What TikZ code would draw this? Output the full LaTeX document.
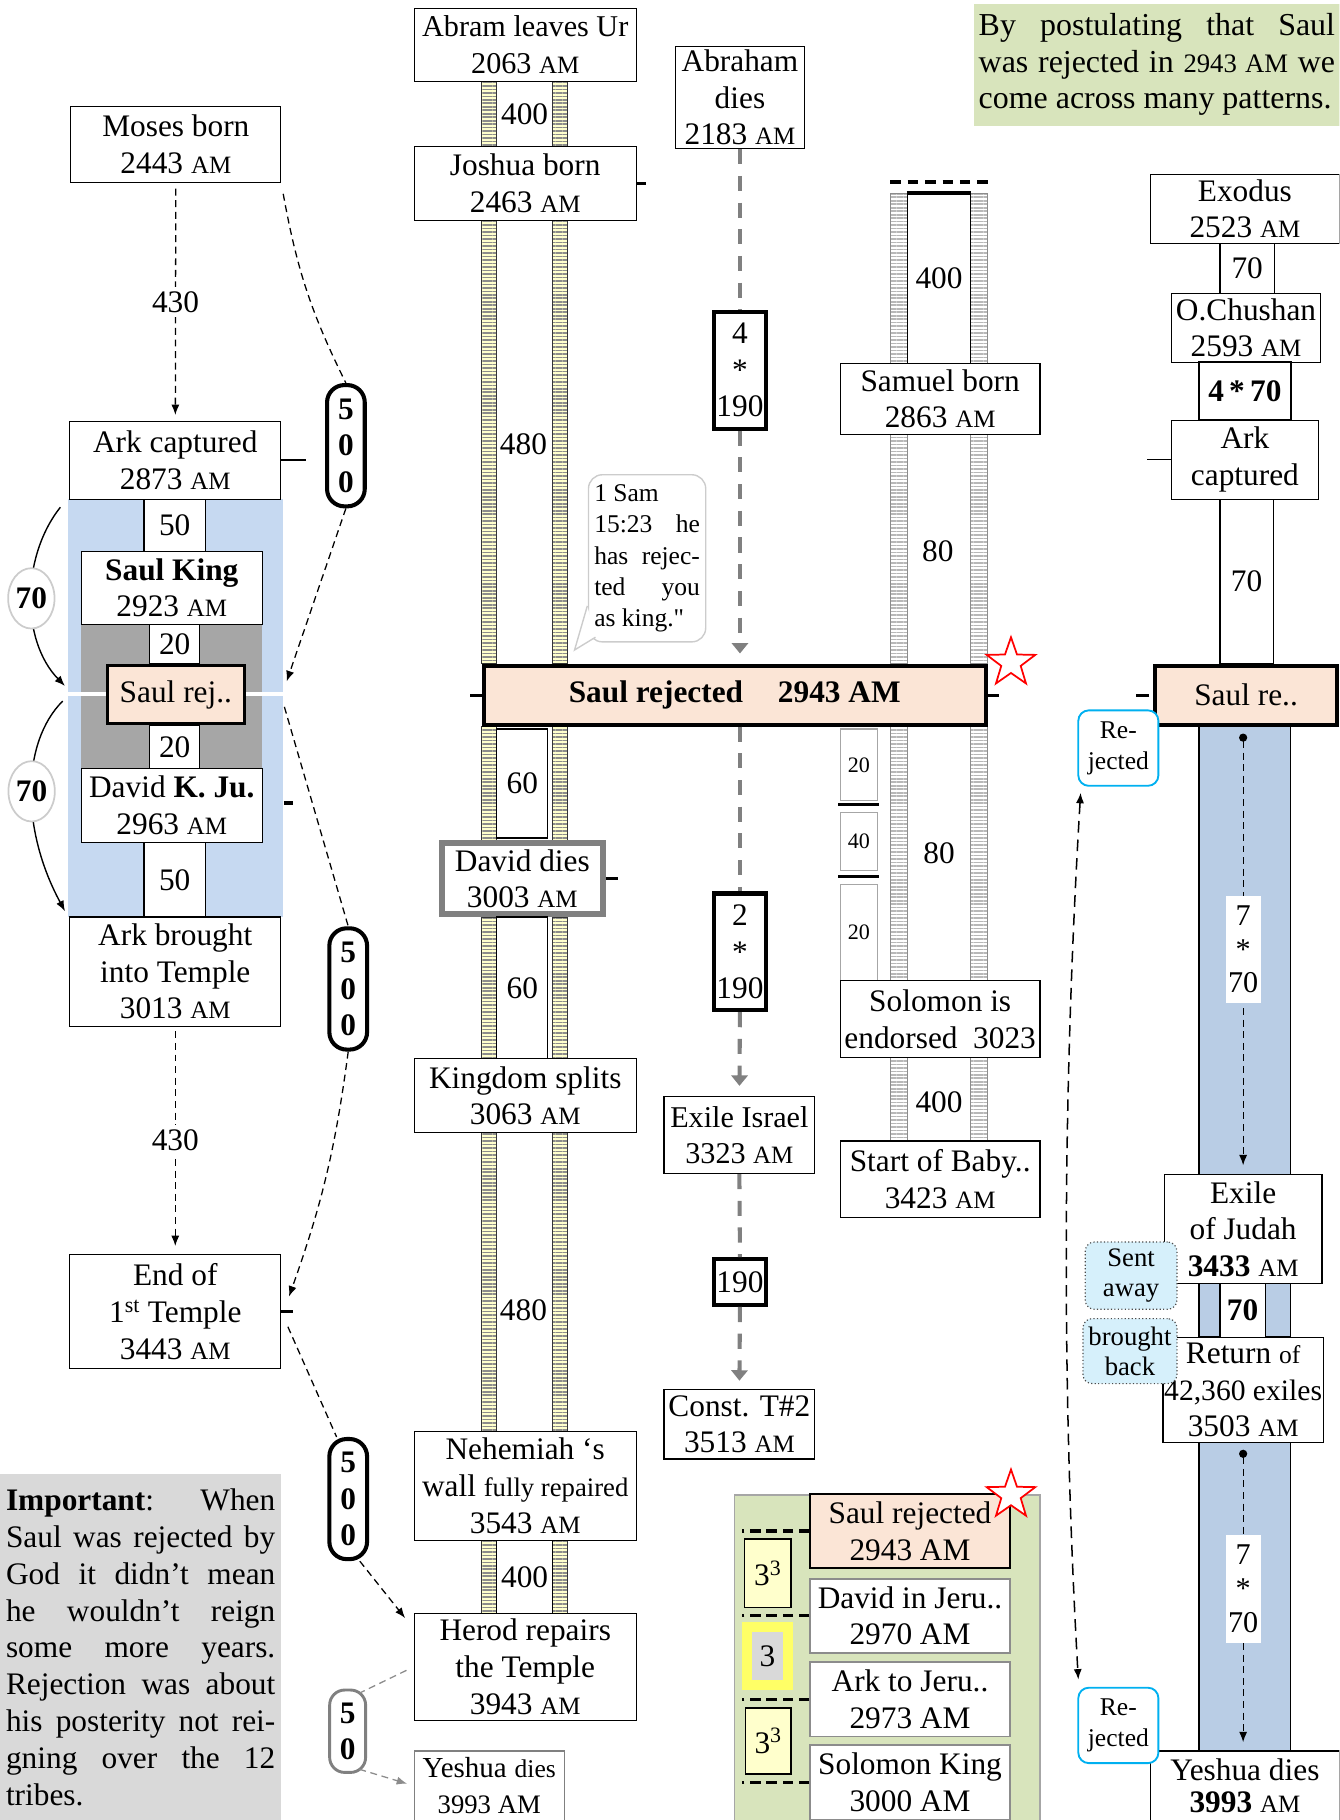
\documentclass[tikz,border=0pt]{standalone}
\usepackage{fontspec}
\setmainfont{Liberation Serif}
\usetikzlibrary{shapes.geometric,arrows.meta,patterns.meta,calc}
\definecolor{cpeach}{RGB}{251,229,214}
\definecolor{cblueL}{RGB}{198,217,241}
\definecolor{cblueR}{RGB}{185,205,229}
\definecolor{cgreen}{RGB}{216,228,188}
\definecolor{cnote}{RGB}{217,217,217}
\definecolor{cdark}{RGB}{166,166,166}
\definecolor{ccyan}{RGB}{0,176,240}
\definecolor{csky}{RGB}{214,240,251}
\definecolor{crail}{RGB}{255,255,204}
\definecolor{cyel}{RGB}{255,255,102}
\newcommand\evfont{\fontsize{27}{31.5}\selectfont}
\newcommand\am{{\fontsize{21.5}{31.5}\selectfont AM}}
\newcommand\dq{{\addfontfeatures{Ligatures=TeXOff}"}}

\begin{document}
\begin{tikzpicture}[x=1pt,y=-1pt,font=\evfont,>={Latex[length=9pt,width=7pt]},
  ev/.style={draw,fill=white,line width=1pt,align=center,inner sep=1pt},
  yrs/.style={draw,fill=white,line width=1pt,inner sep=0pt,align=center},
  rejbox/.style={draw,fill=cpeach,line width=3.5pt,align=center,inner sep=0pt},
  pill/.style={draw,fill=white,line width=3.5pt,rounded corners=15pt,align=center,inner sep=0pt,font=\evfont\bfseries},
  mult/.style={draw,fill=white,line width=3.5pt,align=center,inner sep=0pt},
  circ/.style={ellipse,draw=black!20,line width=1.5pt,fill=white,inner sep=0pt,minimum width=40pt,minimum height=52pt,font=\evfont\bfseries},
  rejtag/.style={draw=ccyan,line width=1.6pt,rounded corners=9pt,fill=white,align=center,inner sep=0pt,minimum width=69pt,minimum height=65pt,font=\fontsize{22}{27}\selectfont},
  skytag/.style={draw=black!70,dotted,line width=1pt,rounded corners=8pt,fill=csky,align=center,inner sep=0pt,font=\fontsize{23}{26}\selectfont},
  redstar/.style={star,star points=5,star point ratio=2.5,draw=red,fill=white,line width=1.5pt,minimum size=44pt,inner sep=0pt},
  smallyrs/.style={yrs,draw=black!35,minimum width=32pt,font=\fontsize{19}{22}\selectfont},
  tickmark/.style={line width=3pt},
  thindash/.style={line width=1.1pt,dash pattern=on 6pt off 4pt},
  greydash/.style={draw=black!50,line width=3.5pt,dash pattern=on 13pt off 10pt},
  railY/.style={draw=black!80,line width=0.8pt,preaction={fill=crail},pattern={Lines[distance=3pt,line width=1.4pt]},pattern color=black!45},
  railG/.style={draw=black!45,line width=0.8pt,preaction={fill=white},pattern={Lines[distance=3pt,line width=1.4pt]},pattern color=black!28},
  numlbl/.style={fill=white,align=center,inner sep=2pt,minimum height=93pt,font=\fontsize{26}{29}\selectfont}]
  \useasboundingbox (0,0) rectangle (1154,1568);
  \clip (0,0) rectangle (1154,1568);

  % backgrounds
  \fill[cblueL] (59,430) rectangle (244,790);
  \fill[cdark] (70,538) rectangle (226,662);
  \draw[white,line width=3pt] (59,598) -- (244,598);
  \draw[fill=cgreen,draw=black!35,line width=1pt] (633,1288) rectangle (896,1575);
  \foreach \a/\b in {626/1012,1106/1152,1243/1575}
    \draw[fill=cblueR,line width=1.2pt] (1033,\a) rectangle (1112,\b);

  % ladders
  \foreach \a/\b in {70/126,190/572,626/724,790/912,976/1233,1327/1390}{
    \draw[railY] (415,\a) rectangle (428,\b);
    \draw[railY] (476,\a) rectangle (489,\b);}
  \foreach \a/\b in {167/313,374/572,626/845,911/983}{
    \draw[railG] (767,\a) rectangle (782,\b);
    \draw[railG] (836,\a) rectangle (851,\b);}
  \draw[line width=3pt,dash pattern=on 9pt off 6pt] (767,157) -- (851,157);

  % left column
  \node[ev,minimum width=181pt,minimum height=65pt] (moses) at (151.5,124.5) {Moses born\\2443 \am};
  \node[ev,minimum width=182pt,minimum height=67pt] (arkcap) at (151,396.5) {Ark captured\\2873 \am};
  \node[yrs,minimum width=53pt,minimum height=45pt] (fiftyA) at (150.5,452.5) {50};
  \node[ev,minimum width=156pt,minimum height=63pt] (saulking) at (148,506.5) {\textbf{Saul King}\\2923 \am};
  \node[yrs,minimum width=43pt,minimum height=34pt] (twentyA) at (150.5,555) {20};
  \node[rejbox,line width=3pt,minimum width=118pt,minimum height=50pt] (saulrejL) at (151.5,598.5) {Saul rej..};
  \node[yrs,minimum width=43pt,minimum height=37pt] (twentyB) at (150.5,643.5) {20};
  \node[ev,minimum width=156pt,minimum height=64pt] (davidk) at (148,694) {David \textbf{K. Ju.}\\2963 \am};
  \node[yrs,minimum width=53pt,minimum height=64pt] (fiftyB) at (150.5,758) {50};
  \node[ev,minimum width=182pt,minimum height=94pt] (arkbrought) at (151,837) {Ark brought\\into Temple\\3013 \am};
  \node[ev,minimum width=182pt,minimum height=98pt] (endtemple) at (151,1130) {End of\\1\textsuperscript{st} Temple\\3443 \am};
  \node[fill=cnote,text width=232pt,align=justify,inner xsep=5pt,inner ysep=0pt,minimum height=298pt,anchor=north west,font=\fontsize{27}{31.75}\selectfont] (important) at (0,1270)
    {\textbf{Important}: When\linebreak Saul was rejected by\linebreak God it didn’t mean\linebreak he wouldn’t reign\linebreak some more years.\linebreak Rejection was about\linebreak his posterity not rei-\linebreak gning over the 12\linebreak tribes.};

  \draw[thindash,->,shorten <=5pt,shorten >=5pt] (moses) -- node[fill=white,inner sep=4pt]{430} (arkcap);
  \draw[thindash,->,shorten <=4pt,shorten >=7pt] (arkbrought) -- node[fill=white,inner sep=4pt]{430} (endtemple);
  \coordinate (seventyAin) at (52,437);
  \coordinate (seventyAout) at (56,591);
  \coordinate (seventyBin) at (54,604);
  \coordinate (seventyBout) at (56,785);
  \draw[line width=1.2pt,->] (seventyAin) .. controls (18,480) and (18,552) .. (seventyAout) node[circ,pos=0.5] (seventyA) {70};
  \draw[line width=1.2pt,->] (seventyBin) .. controls (18,640) and (18,715) .. (seventyBout) node[circ,pos=0.5] (seventyB) {70};
  \draw[line width=1.3pt] (arkcap.east) -- ++(21,0);
  \draw[tickmark] ([xshift=18pt,yshift=2pt]davidk.east) -- ++(8,0);
  \draw[tickmark] (endtemple.east) -- ++(10,0);

  % 500 pills
  \node[pill,minimum width=32.5pt,minimum height=104.5pt] (pillA) at (298,384) {5\\0\\0};
  \node[pill,minimum width=32.5pt,minimum height=104.5pt] (pillB) at (300,852) {5\\0\\0};
  \node[pill,minimum width=32.5pt,minimum height=103.5pt] (pillC) at (300,1291.5) {5\\0\\0};
  \node[pill,draw=black!50,line width=2.5pt,rounded corners=13pt,minimum width=31pt,minimum height=71pt] (pillD) at (299.5,1491.5) {5\\0};

  % middle column
  \node[ev,minimum width=191pt,minimum height=63pt,font=\fontsize{26}{31.5}\selectfont] (abram) at (452.5,38.5) {Abram leaves Ur\\2063 \am};
  \node (fourhundredA) at (452,98) {400};
  \node[ev,minimum width=191pt,minimum height=64pt] (joshua) at (452.5,158) {Joshua born\\2463 \am};
  \node (fourtyeightyA) at (451,383) {480};
  \node[rejbox,minimum width=432.5pt,minimum height=50.5pt] (saulrej) at (633,599) {\textbf{Saul rejected\hspace{30pt}2943 AM}};
  \node[yrs,minimum width=44pt,minimum height=94pt] (sixtyA) at (450,675) {60};
  \node[ev,draw=black!50,line width=5pt,minimum width=139pt,minimum height=61pt] (daviddies) at (450,757) {David dies\\3003 \am};
  \node[yrs,minimum width=44pt,minimum height=122pt] (sixtyB) at (450,851) {60};
  \node[ev,minimum width=191pt,minimum height=64pt] (kingdom) at (452.5,944) {Kingdom splits\\3063 \am};
  \node (fourtyeightyB) at (451,1129) {480};
  \node[ev,minimum width=191pt,minimum height=94pt] (nehemiah) at (452.5,1280) {Nehemiah ‘s\\wall {\fontsize{23}{31.5}\selectfont fully repaired}\\3543 \am};
  \node[yrs,minimum width=48pt,minimum height=63pt] (fourhundredB) at (452,1358.5) {400};
  \node[ev,minimum width=191pt,minimum height=92pt] (herod) at (452.5,1436) {Herod repairs\\the Temple\\3943 \am};
  \node[ev,draw=black!50,minimum width=129pt,minimum height=60pt,anchor=north] (yeshuaM) at (421.5,1508)
    {{\fontsize{25}{27}\selectfont Yeshua} {\fontsize{22}{27}\selectfont dies}\\{\fontsize{23}{27}\selectfont 3993 AM}};
  \draw[tickmark] (joshua.east) -- ++(8,0);
  \draw[tickmark] (saulrej.west) -- ++(-10,0);
  \draw[tickmark] (saulrej.east) -- ++(10,0);
  \draw[tickmark] (daviddies.east) -- ++(10,0);

  \coordinate (mosesOut) at (244,167);
  \coordinate (saulInL) at (247,587);
  \coordinate (saulOutL) at (245,609);
  \coordinate (templeIn) at (249,1117);
  \coordinate (templeOut) at (248,1143);
  \coordinate (herodIn) at (349,1394);
  \draw[thindash] (mosesOut) to[bend right=8] (pillA.north);
  \draw[thindash,->] (pillA.south) -- (saulInL);
  \draw[thindash] (saulOutL) -- (pillB.north);
  \draw[thindash,->] (pillB.south) to[bend left=6] (templeIn);
  \draw[thindash] (templeOut) -- ([xshift=-10pt]pillC.north);
  \draw[thindash,->] ([xshift=10pt]pillC.south) -- (herodIn);
  \draw[thindash,draw=black!45,shorten <=7pt] (herod.west) -- ([xshift=10pt,yshift=-4pt]pillD.north);
  \draw[thindash,draw=black!45,shorten >=6pt,->] ([xshift=10pt,yshift=4pt]pillD.south) -- (yeshuaM.west);

  % Abraham column
  \node[ev,minimum width=111pt,minimum height=88pt] (abraham) at (637.5,84) {Abraham\\dies\\2183 \am};
  \node[mult,minimum width=45.5pt,minimum height=100.5pt] (fourtimes) at (637.5,319) {4\\*\\190};
  \node[mult,minimum width=45.5pt,minimum height=100.5pt] (twotimes) at (637.5,820) {2\\*\\190};
  \node[ev,minimum width=130pt,minimum height=66pt,font=\fontsize{26}{31.5}\selectfont] (exileisr) at (637,978) {Exile Israel\\3323 \am};
  \node[mult,minimum width=45.5pt,minimum height=39.5pt] (onetimes) at (637.5,1104.5) {190};
  \node[ev,minimum width=130pt,minimum height=60pt] (const) at (637,1227) {Const. T\#2\\3513 \am};
  \draw[greydash] (abraham.south) -- (fourtimes.north);
  \draw[greydash,-{Triangle[length=9pt,width=14pt]},shorten >=9pt] (fourtimes.south) -- (fourtimes.south |- saulrej.north);
  \draw[greydash] (fourtimes.south |- saulrej.south) -- (twotimes.north);
  \draw[greydash,-{Triangle[length=9pt,width=14pt]},shorten >=9pt] (twotimes.south) -- (exileisr.north);
  \draw[greydash] (exileisr.south) -- (onetimes.north);
  \draw[greydash,-{Triangle[length=9pt,width=14pt]},shorten >=7pt] (onetimes.south) -- (const.north);

  \node[draw=black!20,line width=1.2pt,rounded corners=12pt,fill=white,text width=91pt,align=justify,inner xsep=5pt,inner ysep=4pt,minimum height=144pt,font=\fontsize{22}{27}\selectfont] (bubble) at (557.5,481)
    {1 Sam\newline 15:23 he\linebreak has rejec-\linebreak ted you\linebreak as king.\dq};
  \fill[white] (506,522) -- (495,560) -- (513,549) -- cycle;
  \draw[black!20,line width=1.2pt] (506,522) -- (495,560) -- (513,549);

  % Samuel column
  \node[yrs,line width=1.2pt,minimum width=54pt,minimum height=146pt] (sfourhundred) at (809,240) {400};
  \draw[line width=3pt] (sfourhundred.north west) -- (sfourhundred.north east);
  \node[ev,minimum width=172pt,minimum height=61pt] (samuel) at (810,343.5) {Samuel born\\2863 \am};
  \node (eightyA) at (808,475) {80};
  \node (eightyB) at (809,735) {80};
  \node[smallyrs,minimum height=62pt] (stwentyA) at (740,659) {20};
  \node[smallyrs,minimum height=50pt] (sforty) at (740,725) {40};
  \node[smallyrs,minimum height=83pt] (stwentyB) at (740,803.5) {20};
  \draw[line width=2.5pt] (722,693) -- (757,693);
  \draw[line width=2.5pt] (722,755) -- (757,755);
  \node[ev,minimum width=172pt,minimum height=66pt] (solomon) at (810,878) {Solomon is\\endorsed\ \ 3023};
  \node (sfourhundredB) at (809,950) {400};
  \node[ev,minimum width=172pt,minimum height=66pt] (babylon) at (810,1016) {Start of Baby..\\3423 \am};
  \node[redstar] (starA) at (871,571) {};

  % right column
  \node[fill=cgreen,text width=307pt,align=justify,inner xsep=4pt,inner ysep=3pt,minimum height=105pt,anchor=north west,font=\fontsize{27.5}{31.5}\selectfont] (postnote) at (839,3)
    {By postulating that Saul\linebreak was rejected in {\fontsize{23}{31.5}\selectfont 2943 AM} we\linebreak come across many patterns.};
  \node[ev,minimum width=163pt,minimum height=60pt] (exodus) at (1072.5,180) {Exodus\\2523 \am};
  \node[yrs,minimum width=47pt,minimum height=43pt] (seventyC) at (1074.5,231.5) {70};
  \node[ev,minimum width=129pt,minimum height=59pt] (chushan) at (1073.5,282.5) {O.Chushan\\2593 \am};
  \node[yrs,line width=2pt,minimum width=79pt,minimum height=50pt,font=\evfont\bfseries] (fourseventy) at (1072.5,337) {4\,*\,70};
  \node[ev,minimum width=127pt,minimum height=68pt] (arkcapR) at (1072.5,396) {Ark\\captured};
  \node[yrs,minimum width=46pt,minimum height=142pt] (seventyD) at (1074,501) {70};
  \node[rejbox,minimum width=157.5pt,minimum height=50.5pt] (saulreR) at (1073.5,599) {Saul re..};
  \node[ev,minimum width=136pt,minimum height=94pt] (exilejud) at (1071,1059) {Exile\\of Judah\\\textbf{3433} \am};
  \node[yrs,minimum width=39pt,minimum height=46pt,font=\evfont\bfseries] (seventyE) at (1070.5,1129) {70};
  \node[ev,minimum width=136pt,minimum height=91pt] (returnj) at (1071,1197.5)
    {Return {\fontsize{22}{31.5}\selectfont of}\\{\fontsize{25.5}{31.5}\selectfont 42,360 exiles}\\3503 \am};
  \node[ev,minimum width=163pt,minimum height=60pt,anchor=north,font=\fontsize{27}{27}\selectfont] (yeshuaR) at (1072.5,1508) {Yeshua dies\\\textbf{3993} {\fontsize{21.5}{27}\selectfont AM}};
  \draw[line width=1.3pt] (arkcapR.west) -- ++(-20,0);
  \draw[tickmark] ([xshift=-3pt]saulreR.west) -- ++(-11,0);

  \coordinate (dotA) at (1071,632);
  \coordinate (tipA) at (1071,1004);
  \coordinate (dotB) at (1071,1249);
  \coordinate (tipB) at (1071,1501);
  \draw[thindash,{Circle[length=7pt]}->] (dotA) -- node[numlbl] (timesA) {7\\*\\70} (tipA);
  \draw[thindash,{Circle[length=7pt]}->] (dotB) -- node[numlbl,pos=0.475] (timesB) {7\\*\\70} (tipB);

  \node[rejtag] (rejA) at (963.5,644.5) {Re-\\jected};
  \node[rejtag] (rejB) at (963.5,1486.5) {Re-\\jected};
  \coordinate (rejAin) at (931,683);
  \coordinate (rejBin) at (929,1447);
  \draw[line width=1.3pt,dash pattern=on 10pt off 6pt,<->] (rejAin) .. controls (915,950) and (915,1200) .. (rejBin);
  \node[skytag,minimum width=79pt,minimum height=58pt] (sentaway) at (974.5,1099) {Sent\\away};
  \node[skytag,minimum width=81pt,minimum height=56pt] (broughtback) at (973.5,1164) {brought\\back};

  % green panel
  \node[ev,fill=cpeach,line width=1.6pt,minimum width=172pt,minimum height=64pt] (saulrejG) at (784,1319) {Saul rejected\\2943 AM};
  \node[ev,draw=black!45,line width=1.6pt,minimum width=172pt,minimum height=64pt] (davidJ) at (784,1392) {David in Jeru..\\2970 AM};
  \node[ev,draw=black!45,line width=1.6pt,minimum width=172pt,minimum height=64pt] (arkJ) at (784,1464) {Ark to Jeru..\\2973 AM};
  \node[ev,draw=black!45,line width=1.6pt,minimum width=172pt,minimum height=64pt] (solomonK) at (784,1535.5) {Solomon King\\3000 AM};
  \foreach \n in {saulrejG,davidJ,arkJ,solomonK}
    \draw[line width=3pt,dash pattern=on 9pt off 5pt] (\n.west) -- ++(-58,0);
  \node[draw,fill=crail,line width=1.5pt,minimum width=40pt,minimum height=59pt,inner sep=0pt] (cubeA) at (661.5,1355.5) {3\textsuperscript{3}};
  \node[draw=cyel,fill=black!15,line width=8.5pt,minimum width=35.5pt,minimum height=50pt,inner sep=0pt] (three) at (661.2,1427) {3};
  \node[draw,fill=crail,line width=1.5pt,minimum width=39pt,minimum height=56.5pt,inner sep=0pt] (cubeB) at (661.8,1500) {3\textsuperscript{3}};
  \node[redstar] (starB) at (871,1288) {};
\end{tikzpicture}
\end{document}
